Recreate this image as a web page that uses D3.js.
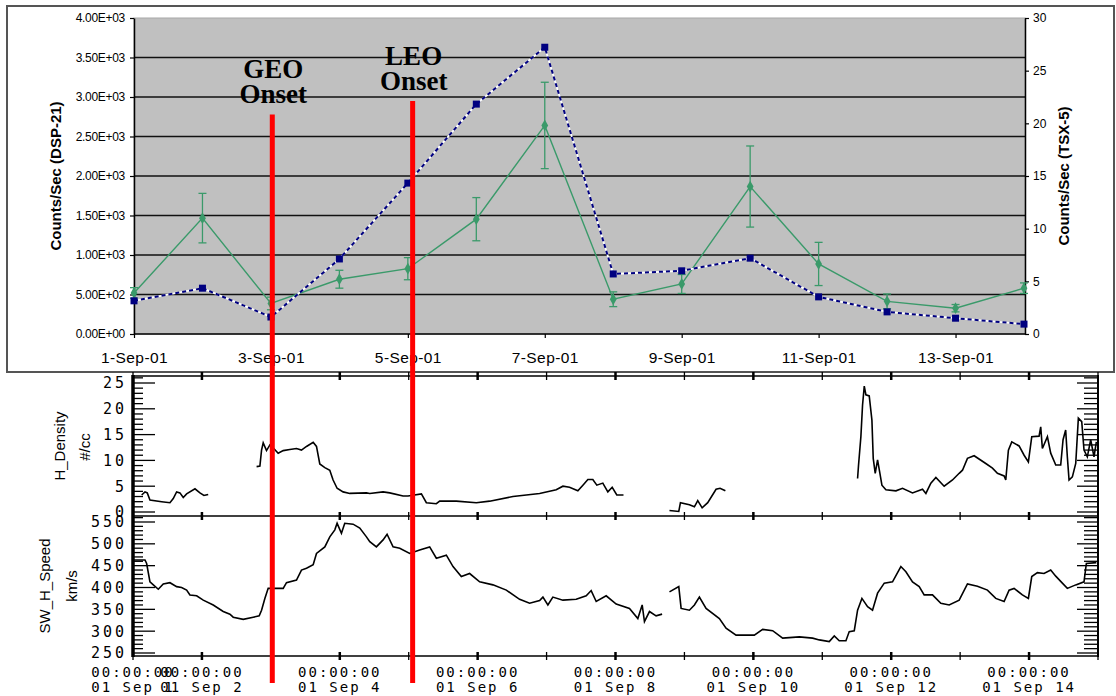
<!DOCTYPE html>
<html>
<head>
<meta charset="utf-8">
<script src="https://cdn.jsdelivr.net/npm/d3@7"></script>
<style>
body { margin: 0; background: #fff; }
svg { display: block; }
</style>
</head>
<body>
<script>
// ---- top chart data (daily counts) ----
var days = ["1-Sep-01","2-Sep-01","3-Sep-01","4-Sep-01","5-Sep-01","6-Sep-01","7-Sep-01",
            "8-Sep-01","9-Sep-01","10-Sep-01","11-Sep-01","12-Sep-01","13-Sep-01","14-Sep-01"]
var dsp21 = [420, 580, 215, 950, 1910, 2910, 3630, 760, 800, 960, 470, 280, 200, 125]
var tsx5 = [3.9, 11.0, 2.9, 5.2, 6.2, 10.9, 19.8, 3.3, 4.75, 14.0, 6.65, 3.1, 2.45, 4.35]
var tsx5Err = [0.5, 2.35, 0.6, 0.85, 1.05, 2.05, 4.1, 0.7, 0.9, 3.85, 2.05, 0.7, 0.35, 0.5]
var onsets = [{name: ["GEO", "Onset"], day: 2.02, top: 2.78}, {name: ["LEO", "Onset"], day: 4.07, top: 2.95}]

// ---- solar wind data: [days since 01 Sep 00:00, value] ----
var density1 = [[0.126,3.3],[0.174,3.9],[0.207,3.7],[0.246,2.3],[0.416,2.0],[0.536,1.8],[0.584,2.6],
  [0.633,3.9],[0.681,3.7],[0.729,2.8],[0.778,3.5],[0.899,4.5],[0.971,3.7],[1.029,3.2],[1.091,3.4]]
var density2 = [[1.793,8.8],[1.841,8.9],[1.865,12.0],[1.889,13.4],[1.937,11.9],[1.986,13.0],[2.043,12.3],
  [2.106,11.4],[2.179,11.9],[2.275,12.1],[2.372,12.3],[2.444,12.0],[2.517,12.7],[2.614,13.5],[2.662,12.7],
  [2.710,9.3],[2.783,8.6],[2.855,8.1],[2.903,6.2],[2.961,4.6],[3.048,3.9],[3.145,3.6],[3.387,3.7],
  [3.435,3.6],[3.628,3.9],[3.725,3.7],[3.918,3.1],[3.99,3.1],[4.184,3.5],[4.256,1.8],[4.401,1.6],
  [4.449,2.1],[4.691,2.1],[4.981,1.8],[5.174,2.1],[5.512,3.0],[5.706,3.3],[5.899,3.6],[6.14,4.3],
  [6.237,5.0],[6.333,4.8],[6.454,4.1],[6.527,5.2],[6.599,6.3],[6.671,6.3],[6.729,5.2],[6.816,5.6],
  [6.889,3.9],[6.952,4.8],[7.019,3.3],[7.116,3.3]]
var density3 = [[7.783,0.3],[7.918,0.1],[7.942,1.8],[8.072,1.4],[8.145,1.0],[8.193,2.2],[8.257,0.8],
  [8.338,1.8],[8.459,4.4],[8.517,4.6],[8.594,4.1]]
var density4 = [[10.512,6.5],[10.526,9.1],[10.560,14.6],[10.584,20.7],[10.609,24.4],[10.633,22.7],
  [10.681,22.5],[10.720,17.8],[10.739,10.4],[10.768,7.5],[10.802,10.1],[10.836,7.5],[10.865,5.2],
  [10.923,4.3],[11.068,4.1],[11.164,4.6],[11.309,3.7],[11.454,4.4],[11.503,3.6],[11.575,5.6],
  [11.648,6.7],[11.768,5.0],[11.889,6.2],[11.986,7.5],[12.034,8.1],[12.106,10.4],[12.203,10.9],
  [12.372,9.4],[12.469,8.5],[12.541,7.5],[12.638,7.0],[12.662,6.2],[12.70,12.0],[12.749,13.6],
  [12.855,12.8],[12.928,11.0],[12.990,9.7],[13.039,14.6],[13.145,14.7],[13.169,16.5],[13.193,12.3],
  [13.266,14.6],[13.314,11.4],[13.387,9.1],[13.459,9.1],[13.493,14.0],[13.531,15.9],[13.555,10.7],
  [13.580,6.2],[13.628,6.8],[13.677,9.4],[13.715,18.2],[13.764,17.5],[13.797,12.0],[13.845,10.7],
  [13.894,14.0],[13.942,10.7],[13.976,13.6]]
var speed1 = [[0.005,463],[0.174,463],[0.198,455],[0.246,413],[0.295,406],[0.367,396],[0.439,408],
  [0.536,411],[0.633,402],[0.705,400],[0.778,394],[0.826,383],[0.923,381],[1.019,371],[1.164,360],
  [1.309,345],[1.406,339],[1.454,332],[1.599,327],[1.744,332],[1.831,335],[1.865,348],[1.913,375],
  [1.961,398],[2.010,398],[2.179,398],[2.227,411],[2.372,417],[2.444,440],[2.517,444],[2.614,452],
  [2.662,478],[2.783,493],[2.855,516],[2.928,532],[2.961,547],[3.024,524],[3.072,547],[3.193,545],
  [3.29,536],[3.387,516],[3.435,505],[3.531,493],[3.628,509],[3.686,522],[3.773,493],[3.870,490],
  [4.014,478],[4.159,486],[4.304,493],[4.401,467],[4.546,474],[4.643,448],[4.763,425],[4.884,432],
  [5.029,413],[5.222,406],[5.416,394],[5.609,373],[5.754,364],[5.899,370],[5.947,378],[6.019,360],
  [6.091,378],[6.237,371],[6.430,373],[6.575,381],[6.647,393],[6.720,368],[6.865,381],[7.010,362],
  [7.203,352],[7.324,329],[7.387,360],[7.420,322],[7.493,345],[7.589,335],[7.676,339]]
var speed2 = [[7.783,390],[7.918,402],[7.952,352],[8.072,348],[8.145,360],[8.217,378],[8.314,352],
  [8.507,329],[8.604,307],[8.749,291],[9.014,291],[9.135,304],[9.280,301],[9.425,284],[9.667,287],
  [9.860,284],[9.957,280],[10.101,276],[10.174,289],[10.246,278],[10.343,278],[10.391,299],[10.464,301],
  [10.512,348],[10.575,375],[10.657,356],[10.729,348],[10.802,387],[10.899,410],[11.019,413],[11.14,448],
  [11.213,436],[11.309,413],[11.406,402],[11.478,383],[11.599,383],[11.720,364],[11.841,360],[11.986,371],
  [12.106,408],[12.251,403],[12.396,394],[12.517,375],[12.638,368],[12.710,394],[12.783,398],[12.903,383],
  [12.990,375],[13.039,425],[13.121,434],[13.217,432],[13.314,440],[13.387,426],[13.483,410],[13.555,398],
  [13.677,406],[13.797,413],[13.831,455],[13.976,457]]
var labelDays = [1, 2, 4, 6, 8, 10, 12, 14]
var densityLabels = [0, 5, 10, 15, 20, 25]
var speedLabels = [250, 300, 350, 400, 450, 500, 550]

var width = 1116,
    height = 696

var svg = d3.select("body")
  .append("svg")
  .attr("width", width)
  .attr("height", height)

// ================= top chart =================
var xTop = d3.scalePoint().domain(days).range([134, 1024])
var yLeft = d3.scaleLinear().domain([0, 4000]).range([334, 18])
var yRight = d3.scaleLinear().domain([0, 30]).range([334, 18])

svg.append("rect")
  .attr("x", 7).attr("y", 6).attr("width", 1107).attr("height", 366)
  .attr("fill", "#fff").attr("stroke", "#555").attr("stroke-width", 2)

svg.append("rect")
  .attr("x", 134).attr("y", 18).attr("width", 891).attr("height", 316)
  .attr("fill", "#c0c0c0").attr("stroke", "#a8a8a8").attr("stroke-width", 1)

svg.selectAll(".grid")
  .data(yLeft.ticks(8).filter(function(d) { return d > 0 && d < 4000 }))
  .enter().append("line")
  .attr("x1", 134).attr("x2", 1025)
  .attr("y1", function(d) { return yLeft(d) })
  .attr("y2", function(d) { return yLeft(d) })
  .attr("stroke", "#111").attr("stroke-width", 1.6)

function sci(d) {
  if (d === 0) return "0.00E+00"
  var e = Math.floor(Math.log10(d))
  return (d / Math.pow(10, e)).toFixed(2) + "E+" + (e < 10 ? "0" + e : e)
}

var leftAxis = svg.append("g")
  .attr("transform", "translate(134,0)")
  .call(d3.axisLeft(yLeft).ticks(8).tickFormat(sci).tickSize(4).tickSizeOuter(0).tickPadding(5))
var rightAxis = svg.append("g")
  .attr("transform", "translate(1025,0)")
  .call(d3.axisRight(yRight).ticks(6).tickSize(4).tickSizeOuter(0).tickPadding(4))
var bottomAxis = svg.append("g")
  .attr("transform", "translate(0,334)")
  .call(d3.axisBottom(xTop).tickValues(days.filter(function(d, i) { return i % 2 === 0 }))
    .tickSize(4).tickSizeOuter(0).tickPadding(14))
bottomAxis.select(".domain").attr("d", "M134,0H1025")

;[leftAxis, rightAxis, bottomAxis].forEach(function(a) {
  a.select(".domain").attr("stroke", "#000").attr("stroke-width", 1.5)
  a.selectAll(".tick line").attr("stroke", "#000").attr("stroke-width", 1.2)
  a.selectAll("text").attr("font-family", "Liberation Sans, Arial, sans-serif").attr("fill", "#000")
})
leftAxis.selectAll("text").attr("font-size", 12).attr("letter-spacing", -0.3)
rightAxis.selectAll("text").attr("font-size", 12)
bottomAxis.selectAll("text").attr("font-size", 15.5).attr("letter-spacing", 0.4)

svg.append("text")
  .attr("transform", "translate(61,176) rotate(-90)")
  .attr("text-anchor", "middle")
  .attr("font-family", "Liberation Sans, Arial, sans-serif")
  .attr("font-weight", "bold").attr("font-size", 15)
  .text("Counts/Sec (DSP-21)")
svg.append("text")
  .attr("transform", "translate(1069,176) rotate(-90)")
  .attr("text-anchor", "middle")
  .attr("font-family", "Liberation Sans, Arial, sans-serif")
  .attr("font-weight", "bold").attr("font-size", 15)
  .text("Counts/Sec (TSX-5)")

// green TSX-5 series with error bars
var green = "#3a9a6a"
var tsxPts = days.map(function(d, i) { return {x: xTop(d), v: tsx5[i], e: tsx5Err[i]} })
svg.append("path")
  .datum(tsxPts)
  .attr("d", d3.line().x(function(d) { return d.x }).y(function(d) { return yRight(d.v) }))
  .attr("fill", "none").attr("stroke", green).attr("stroke-width", 1.4)
var eb = svg.selectAll(".eb").data(tsxPts).enter().append("g")
eb.append("line")
  .attr("x1", function(d) { return d.x }).attr("x2", function(d) { return d.x })
  .attr("y1", function(d) { return yRight(d.v + d.e) }).attr("y2", function(d) { return yRight(d.v - d.e) })
eb.append("line")
  .attr("x1", function(d) { return d.x - 4 }).attr("x2", function(d) { return d.x + 4 })
  .attr("y1", function(d) { return yRight(d.v + d.e) }).attr("y2", function(d) { return yRight(d.v + d.e) })
eb.append("line")
  .attr("x1", function(d) { return d.x - 4 }).attr("x2", function(d) { return d.x + 4 })
  .attr("y1", function(d) { return yRight(d.v - d.e) }).attr("y2", function(d) { return yRight(d.v - d.e) })
eb.selectAll("line").attr("stroke", green).attr("stroke-width", 1.3)
svg.selectAll(".gm").data(tsxPts).enter().append("path")
  .attr("transform", function(d) { return "translate(" + d.x + "," + yRight(d.v) + ")" })
  .attr("d", d3.symbol(d3.symbolDiamond, 40))
  .attr("fill", green)

// navy DSP-21 series, dashed with white gaps
var dspPts = days.map(function(d, i) { return {x: xTop(d), v: dsp21[i]} })
var dspLine = d3.line().x(function(d) { return d.x }).y(function(d) { return yLeft(d.v) })
svg.append("path").datum(dspPts).attr("d", dspLine)
  .attr("fill", "none").attr("stroke", "#fff").attr("stroke-width", 1.8)
svg.append("path").datum(dspPts).attr("d", dspLine)
  .attr("fill", "none").attr("stroke", "#000080").attr("stroke-width", 2)
  .attr("stroke-dasharray", "4,3")
svg.selectAll(".bm").data(dspPts).enter().append("rect")
  .attr("x", function(d) { return d.x - 3.5 }).attr("y", function(d) { return yLeft(d.v) - 3.5 })
  .attr("width", 7).attr("height", 7).attr("fill", "#000080")

// ================= solar wind panels =================
var t0 = Date.UTC(2001, 8, 1)
function toDate(t) { return new Date(t0 + t * 864e5) }
var xT = d3.scaleUtc().domain([toDate(0), toDate(14)]).range([133, 1098])
var yDen = d3.scaleLinear().domain([0, 25]).range([512, 383])
var ySpd = d3.scaleLinear().domain([250, 550]).range([653, 522])
var panelLines = [376, 516, 656]
var mono = "DejaVu Sans Mono, monospace"

panelLines.forEach(function(y) {
  svg.append("line").attr("x1", 133).attr("x2", 1098).attr("y1", y).attr("y2", y)
    .attr("stroke", "#000").attr("stroke-width", 1.5)
  svg.selectAll(null).data(d3.utcDay.range(toDate(0), toDate(14.5)))
    .enter().append("line")
    .attr("x1", function(d) { return xT(d) }).attr("x2", function(d) { return xT(d) })
    .attr("y1", y - 4).attr("y2", y + 4)
    .attr("stroke", "#000")
    .attr("stroke-width", function(d, i) { return i % 2 === 1 ? 2.5 : 1.3 })
})

// left and right frame with inside ticks
svg.append("line").attr("x1", 133).attr("x2", 133).attr("y1", 375).attr("y2", 657)
  .attr("stroke", "#000").attr("stroke-width", 3.5)
svg.append("line").attr("x1", 1098).attr("x2", 1098).attr("y1", 375).attr("y2", 657)
  .attr("stroke", "#000").attr("stroke-width", 2)

function sideTicks(scale, vals, majorStep) {
  vals.forEach(function(v) {
    var major = v % majorStep === 0
    var y = scale(v)
    svg.append("line").attr("x1", 133).attr("x2", 133 + (major ? 22 : 10))
      .attr("y1", y).attr("y2", y).attr("stroke", "#000").attr("stroke-width", 1.3)
    svg.append("line").attr("x1", 1098).attr("x2", 1098 - (major ? 21 : 14))
      .attr("y1", y).attr("y2", y).attr("stroke", "#000").attr("stroke-width", 1.3)
  })
}
sideTicks(yDen, d3.range(0, 27, 1), 5)
sideTicks(ySpd, d3.range(250, 561, 10), 50)

svg.selectAll(".dl").data(densityLabels).enter().append("text")
  .attr("x", 127).attr("y", function(d) { return yDen(d) }).attr("dy", "0.36em")
  .attr("text-anchor", "end").attr("font-family", mono).attr("font-size", 15)
  .attr("letter-spacing", 3).text(function(d) { return d })
svg.selectAll(".sl").data(speedLabels).enter().append("text")
  .attr("x", 127).attr("y", function(d) { return ySpd(d) }).attr("dy", "0.36em")
  .attr("text-anchor", "end").attr("font-family", mono).attr("font-size", 15)
  .attr("letter-spacing", 3).text(function(d) { return d })

var tl = svg.selectAll(".tl").data(labelDays).enter().append("g")
  .attr("transform", function(d) { return "translate(" + xT(toDate(d - 1)) + ",0)" })
  .attr("font-family", mono).attr("font-size", 14).attr("letter-spacing", 2)
  .attr("text-anchor", "middle").style("white-space", "pre")
tl.append("text").attr("y", 677).text("00:00:00")
tl.append("text").attr("y", 692).text(function(d) { return "01 Sep " + (d < 10 ? " " + d : d) })

var sans = "Liberation Sans, Arial, sans-serif"
svg.append("text").attr("transform", "translate(65,446) rotate(-90)").attr("text-anchor", "middle")
  .attr("font-family", sans).attr("font-size", 15).text("H_Density")
svg.append("text").attr("transform", "translate(90,447) rotate(-90)").attr("text-anchor", "middle")
  .attr("font-family", sans).attr("font-size", 15).text("#/cc")
svg.append("text").attr("transform", "translate(50,586) rotate(-90)").attr("text-anchor", "middle")
  .attr("font-family", sans).attr("font-size", 15).text("SW_H_Speed")
svg.append("text").attr("transform", "translate(77,586) rotate(-90)").attr("text-anchor", "middle")
  .attr("font-family", sans).attr("font-size", 15).text("km/s")

var denLine = d3.line().x(function(d) { return xT(toDate(d[0])) }).y(function(d) { return yDen(d[1]) })
var spdLine = d3.line().x(function(d) { return xT(toDate(d[0])) }).y(function(d) { return ySpd(d[1]) })
;[density1, density2, density3, density4].forEach(function(s) {
  svg.append("path").datum(s).attr("d", denLine)
    .attr("fill", "none").attr("stroke", "#000").attr("stroke-width", 1.6)
})
;[speed1, speed2].forEach(function(s) {
  svg.append("path").datum(s).attr("d", spdLine)
    .attr("fill", "none").attr("stroke", "#000").attr("stroke-width", 1.6)
})

// ================= onset markers =================
onsets.forEach(function(o) {
  var x = xTop(days[0]) + (xTop(days[1]) - xTop(days[0])) * o.day
  svg.append("line").attr("x1", x).attr("x2", x)
    .attr("y1", yLeft(o.top * 1000)).attr("y2", 683)
    .attr("stroke", "#ff0000").attr("stroke-width", 5)
  var yTop = yLeft(o.top * 1000) - 36
  svg.append("text").attr("x", x + 1).attr("y", yTop)
    .attr("text-anchor", "middle").attr("font-family", "Liberation Serif, Times New Roman, serif")
    .attr("font-weight", "bold").attr("font-size", 27).text(o.name[0])
  svg.append("text").attr("x", x + 1).attr("y", yTop + 25)
    .attr("text-anchor", "middle").attr("font-family", "Liberation Serif, Times New Roman, serif")
    .attr("font-weight", "bold").attr("font-size", 27).text(o.name[1])
})
</script>
</body>
</html>
